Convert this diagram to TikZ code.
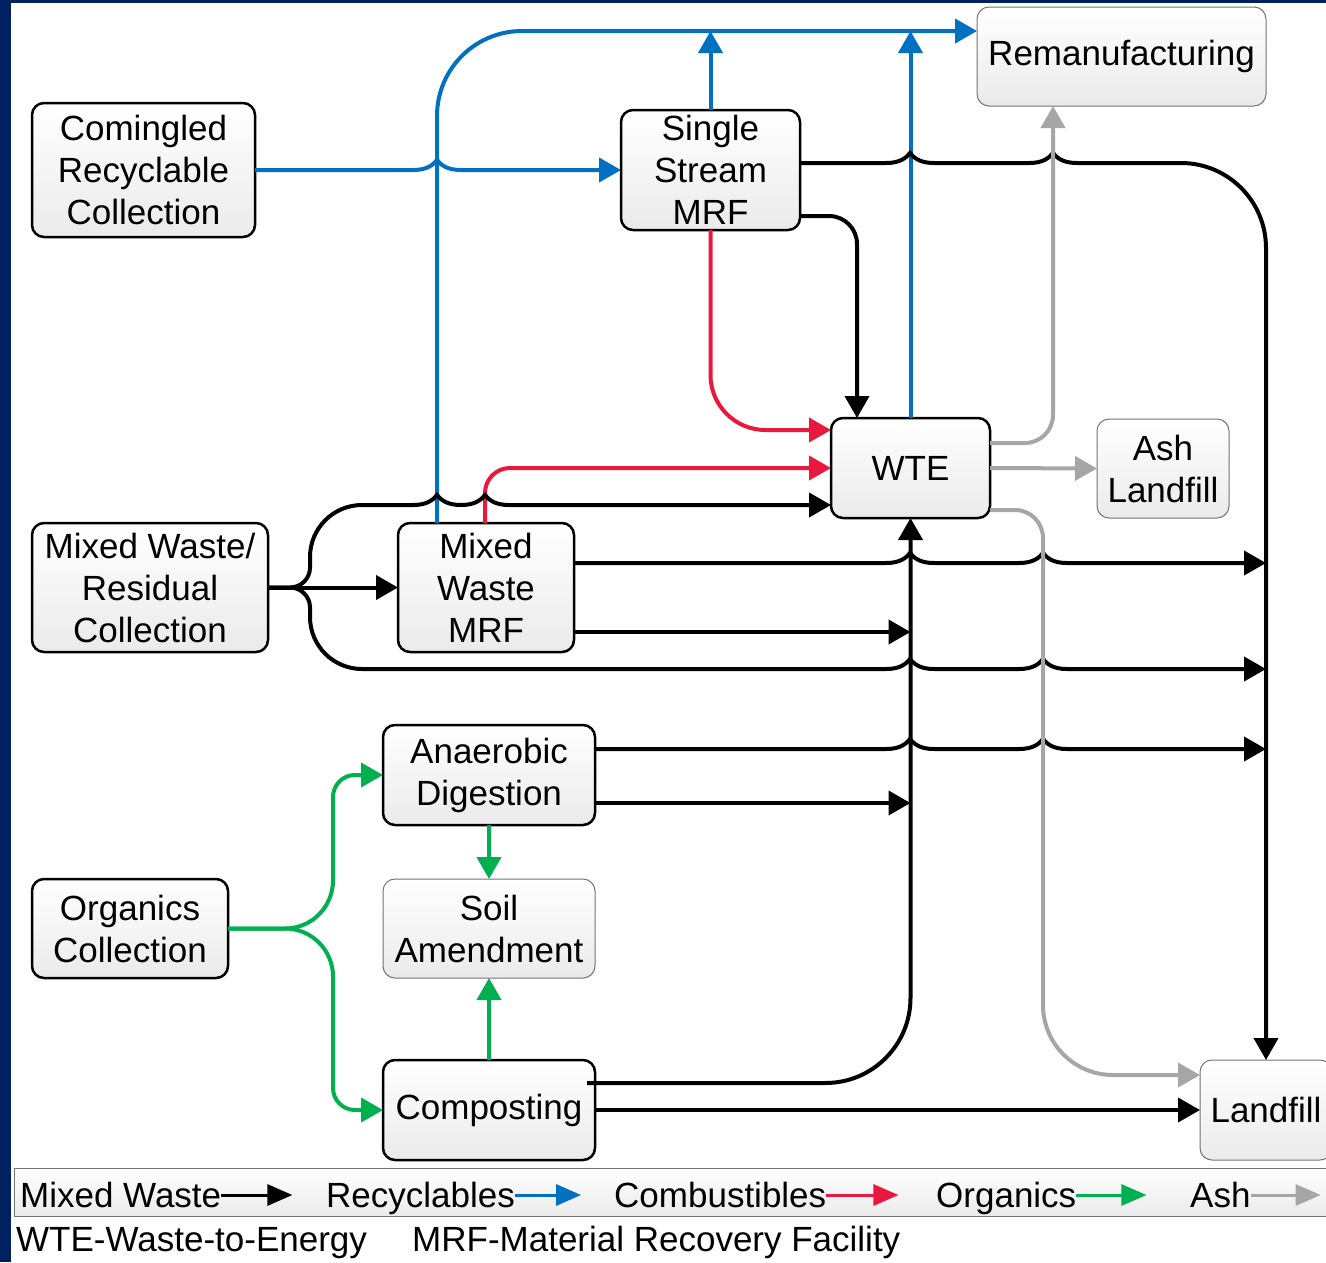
\documentclass[tikz,border=0pt]{standalone}
\usepackage{fontspec}
\setmainfont{Liberation Sans}
\usetikzlibrary{arrows.meta}

\definecolor{slide navy}{HTML}{002060}
\definecolor{recyclables color}{HTML}{0070C0}
\definecolor{combustibles color}{HTML}{E8193C}
\definecolor{organics color}{HTML}{00B050}
\definecolor{ash color}{HTML}{A6A6A6}
\colorlet{mixed waste color}{black}
\colorlet{box shade color}{black!8}

% small bump where a flow passes over another one
\newcommand{\jumpover}[2]{-- (#1-24,#2) .. controls (#1-10,#2) and (#1-4,#2-5) .. (#1,#2-10) .. controls (#1+4,#2-5) and (#1+10,#2) .. (#1+24,#2)}

\tikzset{
    x={1pt},
    y={-1pt},
    facility/.style={
        draw=black, line width={2.5pt},
        rounded corners={12pt},
        top color=white, bottom color=box shade color,
        align=center,
        inner sep=0pt, outer sep=0pt,
    },
    product/.style={
        facility,
        draw=black!55, line width={1pt},
    },
    flow/.style={
        draw={#1}, line width={4pt},
        -{Triangle[length=22pt,width=24pt]},
    },
    flow/.default={mixed waste color},
    legend frame/.style={
        draw=black!55, line width={1pt},
        top color=white, bottom color=box shade color,
    },
    legend text/.style={
        anchor=base west,
        inner sep=0pt,
    },
    legend arrow/.style={
        draw={#1}, line width={3pt},
        -{Triangle[length=25pt,width=21pt]},
    },
    legend arrow/.default={mixed waste color},
}

\begin{document}
\begin{tikzpicture}[font=\fontsize{35}{42}\selectfont]
% background
\useasboundingbox (0,0) rectangle (1326,1262);
\fill[white] (0,0) rectangle (1326,1262);
\fill[slide navy] (0,0) rectangle (11,1262);
\fill[slide navy] (0,0) rectangle (1326,3);
% facilities
\node[facility, minimum width=223, minimum height=134] (ccol) at (143.5,170) {Comingled\\Recyclable\\Collection};
\node[facility, minimum width=179, minimum height=120] (ssmrf) at (710.5,170) {Single\\Stream\\MRF};
\node[product, minimum width=289, minimum height=99] (reman) at (1121.5,56.5) {Remanufacturing};
\node[facility, minimum width=159, minimum height=100] (wte) at (910.5,468) {WTE};
\node[product, minimum width=132, minimum height=99] (ashlf) at (1163,468.5) {Ash\\Landfill};
\node[facility, minimum width=236, minimum height=129] (mwcol) at (150,587.5) {Mixed Waste/\\Residual\\Collection};
\node[facility, minimum width=176, minimum height=129] (mwmrf) at (486,587.5) {Mixed\\Waste\\MRF};
\node[facility, minimum width=212, minimum height=100] (ad) at (489,775) {Anaerobic\\Digestion};
\node[product, minimum width=212, minimum height=99] (soil) at (489,928.5) {Soil\\Amendment};
\node[facility, minimum width=196, minimum height=99] (orgcol) at (130,928.5) {Organics\\Collection};
\node[facility, minimum width=212, minimum height=100] (comp) at (489,1110) {Composting};
\node[product, minimum width=132, minimum height=100] (lf) at (1266,1110) {Landfill};
% buses and flow ends
\coordinate (topbus) at (0,31);
\coordinate (mwrise) at (437,0);
\coordinate (combrise) at (485,0);
\coordinate (ashrise) at (1053,0);
\coordinate (bypasslow) at (310,669);
\coordinate (mwmrfhi) at ([yshift=24.5pt]mwmrf.east);
\coordinate (mwmrflo) at ([yshift=-44.5pt]mwmrf.east);
\coordinate (adhi) at ([yshift=26pt]ad.east);
\coordinate (adlo) at ([yshift=-28pt]ad.east);
% recyclables
\draw[flow=recyclables color] (ccol.east) \jumpover{437}{170} -- (ssmrf.west);
\draw[flow=recyclables color] (ssmrf.north) -- (ssmrf.north |- topbus);
\draw[flow=recyclables color] (wte.north) -- (wte.north |- topbus);
\draw[flow=recyclables color, rounded corners=85pt] (mwmrf.north -| mwrise) -- (mwrise |- topbus) -- (reman.west |- topbus);
% combustibles
\draw[flow=combustibles color, rounded corners=55pt] (ssmrf.south) |- ([yshift=38pt]wte.west);
\draw[flow=combustibles color, rounded corners=25pt] (mwmrf.north -| combrise) |- (wte.west);
% mixed waste
\draw[flow] ([yshift=7pt]ssmrf.east) \jumpover{910}{163} \jumpover{1053}{163} [rounded corners=85pt] -| (lf.north);
\draw[flow, rounded corners=28pt] ([yshift=-46pt]ssmrf.east) -| ([xshift=-53.5pt]wte.north);
\draw[flow] (mwcol.east) -- (mwmrf.west);
\draw[flow] (mwcol.east) [rounded corners=20pt] -- (310,587.5) [rounded corners=52pt] -- (310,505) [sharp corners] \jumpover{437}{505} \jumpover{485}{505} -- ([yshift=-37pt]wte.west);
\draw[flow] (mwcol.east) [rounded corners=20pt] -- (310,587.5) [rounded corners=52pt] -- (bypasslow) [sharp corners] \jumpover{910}{669} \jumpover{1043}{669} -- (bypasslow -| lf.north);
\draw[flow] (mwmrfhi) \jumpover{910}{563} \jumpover{1043}{563} -- (mwmrfhi -| lf.north);
\draw[flow] (mwmrflo) -- (mwmrflo -| wte.south);
\draw[flow] (adhi) \jumpover{910}{749} \jumpover{1043}{749} -- (adhi -| lf.north);
\draw[flow] (adlo) -- (adlo -| wte.south);
\draw[flow, rounded corners=85pt] ([xshift=-8pt,yshift=27pt]comp.east) -| (wte.south);
\draw[flow] (comp.east) -- (lf.west);
% ash
\draw[flow=ash color, rounded corners=28pt] ([yshift=25pt]wte.east) -| (reman.south -| ashrise);
\draw[flow=ash color] (wte.east) -- (ashlf.west);
\draw[flow=ash color] ([yshift=-42pt]wte.east) [rounded corners=28pt] -| (1043,700) [rounded corners=70pt] |- ([yshift=35pt]lf.west);
% organics
\draw[flow=organics color] (orgcol.east) [rounded corners=48pt] -- (333,928.5) [rounded corners=22pt] |- (ad.west);
\draw[flow=organics color] (orgcol.east) [rounded corners=48pt] -- (333,928.5) [rounded corners=22pt] |- (comp.west);
\draw[flow=organics color] (ad.south) -- (soil.north);
\draw[flow=organics color] (comp.north) -- (soil.south);
% legend
\path[legend frame] (14,1168) rectangle (1340,1216);
\node[legend text] (lgmixed) at (20,1207) {Mixed Waste};
\draw[legend arrow] ([yshift=12pt]lgmixed.base east) -- ++(71,0);
\node[legend text] (lgrecyc) at (326,1207) {Recyclables};
\draw[legend arrow=recyclables color] ([yshift=12pt]lgrecyc.base east) -- ++(66,0);
\node[legend text] (lgcomb) at (614,1207) {Combustibles};
\draw[legend arrow=combustibles color] ([yshift=12pt]lgcomb.base east) -- ++(72,0);
\node[legend text] (lgorg) at (936,1207) {Organics};
\draw[legend arrow=organics color] ([yshift=12pt]lgorg.base east) -- ++(70,0);
\node[legend text] (lgash) at (1190,1207) {Ash};
\draw[legend arrow=ash color] ([yshift=12pt]lgash.base east) -- ++(70,0);
\node[legend text] (wtedef) at (16,1251) {WTE-Waste-to-Energy};
\node[legend text] (mrfdef) at (412,1251) {MRF-Material Recovery Facility};
\end{tikzpicture}
\end{document}
